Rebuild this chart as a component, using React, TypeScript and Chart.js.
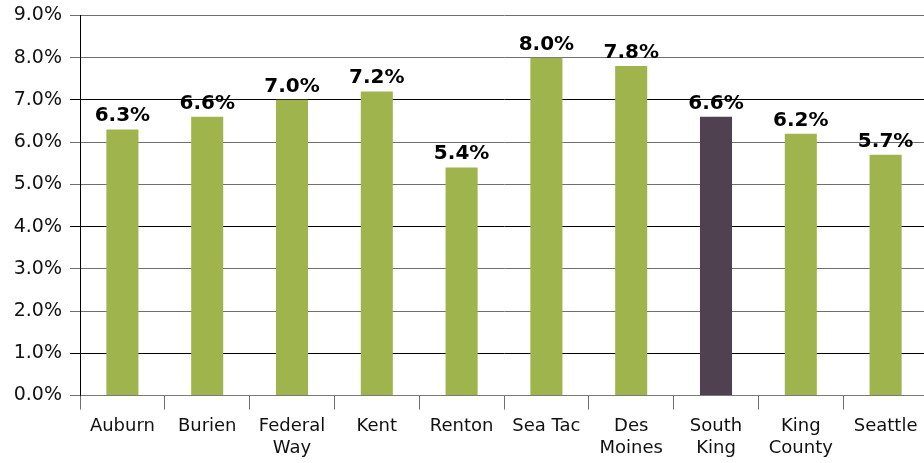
import React, { useEffect, useRef } from "react";
import { Chart, registerables } from "chart.js";

Chart.register(...registerables);

const categories: string[][] = [
  ["Auburn"],
  ["Burien"],
  ["Federal", "Way"],
  ["Kent"],
  ["Renton"],
  ["Sea Tac"],
  ["Des", "Moines"],
  ["South", "King"],
  ["King", "County"],
  ["Seattle"],
];
const rates: number[] = [6.3, 6.6, 7.0, 7.2, 5.4, 8.0, 7.8, 6.6, 6.2, 5.7];
const highlighted: boolean[] = [false, false, false, false, false, false, false, true, false, false];
const yTicks: number[] = [0, 1, 2, 3, 4, 5, 6, 7, 8, 9];

const GREEN = "#9fb44c";
const PURPLE = "#504150";
const FONT = "'DejaVu Sans', Verdana, sans-serif";

const labelPlugin = {
  id: "barLabels",
  afterDatasetsDraw(chart: any) {
    const ctx = chart.ctx;
    const meta = chart.getDatasetMeta(0);
    ctx.save();
    ctx.font = `bold 20px ${FONT}`;
    ctx.fillStyle = "#000";
    ctx.textAlign = "center";
    ctx.textBaseline = "alphabetic";
    meta.data.forEach((el: any, i: number) => {
      const v = chart.data.datasets[0].data[i] as number;
      ctx.fillText(v.toFixed(1) + "%", el.x, el.y - 8);
    });
    ctx.restore();
  },
};

export default function App() {
  const ref = useRef<HTMLCanvasElement | null>(null);
  useEffect(() => {
    if (!ref.current) return;
    const chart = new Chart(ref.current, {
      type: "bar",
      data: {
        labels: categories,
        datasets: [
          {
            data: rates,
            backgroundColor: highlighted.map((h) => (h ? PURPLE : GREEN)),
            barPercentage: 1,
            categoryPercentage: 0.378,
          },
        ],
      },
      options: {
        animation: false,
        responsive: false,
        maintainAspectRatio: false,
        layout: { padding: { top: 1.7, right: 0, left: 0, bottom: 0 } },
        plugins: {
          legend: { display: false },
          tooltip: { enabled: false },
        },
        scales: {
          x: {
            grid: {
              display: true,
              drawOnChartArea: false,
              drawTicks: true,
              tickLength: 14,
              tickColor: "#6e6e6e",
              offset: true,
            },
            border: { display: true, color: "#7a7a7a", width: 1 },
            ticks: {
              color: "#111",
              font: { family: FONT, size: 18, lineHeight: 1.22 },
              padding: 6,
              maxRotation: 0,
              autoSkip: false,
            },
            afterFit(scale: any) {
              scale.height = 67.5;
            },
          },
          y: {
            min: 0,
            max: 9,
            afterBuildTicks(scale: any) {
              scale.ticks = yTicks.map((v) => ({ value: v }));
            },
            grid: {
              color: (c: any) =>
                c.tick && [1, 4, 7].includes(c.tick.value) ? "#000" : "#6f6f6f",
              drawTicks: true,
              tickLength: 10,
            },
            border: { display: true, color: "#000", width: 1 },
            ticks: {
              color: "#111",
              font: { family: FONT, size: 19 },
              padding: 8,
              callback: (v: any) => Number(v).toFixed(1) + "%",
            },
            afterFit(scale: any) {
              scale.width = 80;
            },
          },
        },
      },
      plugins: [labelPlugin],
    });
    return () => chart.destroy();
  }, []);
  return (
    <div style={{ position: "fixed", left: 0, top: -4, width: 928, height: 467, background: "#fff" }}>
      <canvas ref={ref} width={928} height={467} style={{ display: "block" }} />
    </div>
  );
}
